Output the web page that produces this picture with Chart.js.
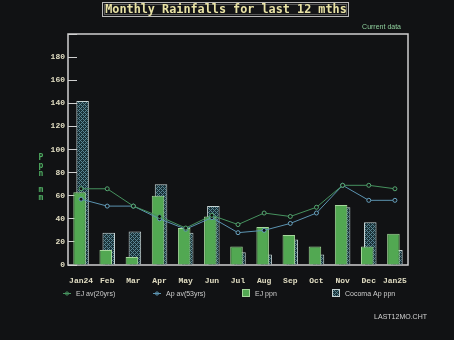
<!DOCTYPE html>
<html>
<head>
<meta charset="utf-8">
<title>Monthly Rainfalls for last 12 mths</title>
<script src="https://cdn.jsdelivr.net/npm/chart.js@4.4.1/dist/chart.umd.min.js"></script>
<style>
  html, body { margin: 0; padding: 0; background: #111214; }
  #wrap { width: 454px; height: 340px; }
</style>
</head>
<body>
<div id="wrap"><canvas id="rain" width="454" height="340"></canvas></div>
<script>
// monthly figures, mm
const months = ['Jan24', 'Feb', 'Mar', 'Apr', 'May', 'Jun', 'Jul', 'Aug', 'Sep', 'Oct', 'Nov', 'Dec', 'Jan25'];
const ejAverage = [66, 66, 51, 42, 32, 43, 35, 45, 42, 50, 69, 69, 66];
const apAverage = [57, 51, 51, 40, 31, 41, 28, 30, 36, 45, 69, 56, 56];
const ejRain = [63, 13, 7, 60, 32, 42, 16, 33, 26, 16, 52, 16, 27];
const cocomaRain = [142, 28, 29, 70, 28, 51, 11, 9, 22, 9, 50, 37, 13];
const yTicks = [0, 20, 40, 60, 80, 100, 120, 140, 160, 180];

const titleText = 'Monthly Rainfalls for last 12 mths';
const axisText = 'Ppn mm';
const noteText = 'Current data';
const fileText = 'LAST12MO.CHT';

const MONO = '"DejaVu Sans Mono", "Liberation Mono", monospace';
const COURIER = '"Liberation Mono", monospace';
const SANS = '"Liberation Sans", Arial, sans-serif';

// cross hatch used for the Cocoma bars
function makeHatch() {
    const c = document.createElement('canvas');
    c.width = 4;
    c.height = 4;
    const g = c.getContext('2d');
    g.fillStyle = '#1a3238';
    g.fillRect(0, 0, 4, 4);
    g.fillStyle = '#5a8694';
    for (let x = 0; x < 4; x++) {
        for (let y = 0; y < 4; y++) {
            if ((x + y) % 4 === 0 || ((x - y) + 4) % 4 === 0) g.fillRect(x, y, 1, 1);
        }
    }
    return c;
}
const hatch = document.createElement('canvas').getContext('2d').createPattern(makeHatch(), 'repeat');

const extras = {
    id: 'extras',
    beforeDraw(chart) {
        const ctx = chart.ctx;
        ctx.save();
        ctx.fillStyle = '#111214';
        ctx.fillRect(0, 0, chart.width, chart.height);
        ctx.restore();
    },
    beforeDatasetsDraw(chart) {
        const {ctx, chartArea: a} = chart;
        ctx.save();
        ctx.strokeStyle = '#cfcfcf';
        ctx.lineWidth = 1.5;
        ctx.strokeRect(a.left, a.top, a.right - a.left, a.bottom - a.top);
        ctx.restore();
    },
    afterDraw(chart) {
        const {ctx, chartArea: a} = chart;
        ctx.save();

        // title box
        ctx.fillStyle = '#141517';
        ctx.fillRect(102, 2, 247, 15);
        ctx.strokeStyle = '#b9b9b9';
        ctx.lineWidth = 1;
        ctx.strokeRect(102.5, 2.5, 246, 14);
        ctx.strokeStyle = '#5a5a5a';
        ctx.strokeRect(104.5, 4.5, 242, 10);
        ctx.fillStyle = '#e8e2a4';
        ctx.font = 'bold 11.8px ' + MONO;
        ctx.textAlign = 'center';
        ctx.textBaseline = 'middle';
        ctx.fillText(titleText, 226, 10);

        // note above the top right corner
        ctx.fillStyle = '#8fcf9c';
        ctx.font = '7px ' + SANS;
        ctx.textAlign = 'right';
        ctx.fillText(noteText, a.right - 7, 27);

        // y axis title, one letter under the other
        ctx.fillStyle = '#4fae62';
        ctx.font = 'bold 8px ' + MONO;
        ctx.textAlign = 'center';
        [...axisText].forEach((ch, i) => ctx.fillText(ch, 41, 158 + i * 8));

        // legend
        const legendX = [63, 153, 242, 332];
        const ly = 293;
        ctx.font = '7px ' + SANS;
        ctx.textAlign = 'left';
        chart.data.datasets.forEach((ds, i) => {
            const x = legendX[i];
            if (ds.type === 'line') {
                ctx.strokeStyle = ds.borderColor;
                ctx.lineWidth = 1;
                ctx.beginPath();
                ctx.moveTo(x, ly + 0.5);
                ctx.lineTo(x + 8, ly + 0.5);
                ctx.stroke();
                ctx.beginPath();
                ctx.arc(x + 4, ly + 0.5, 1.6, 0, Math.PI * 2);
                ctx.stroke();
            } else {
                ctx.fillStyle = ds.backgroundColor;
                ctx.fillRect(x, ly - 4, 8, 8);
                ctx.strokeStyle = ds.borderColor;
                ctx.strokeRect(x + 0.5, ly - 3.5, 7, 7);
            }
            ctx.fillStyle = '#cdcdcd';
            ctx.fillText(ds.label, x + 13, ly + 1);
        });

        // file name
        ctx.fillStyle = '#d2d2d2';
        ctx.font = '7px ' + SANS;
        ctx.textAlign = 'right';
        ctx.fillText(fileText, 427, 317);
        ctx.restore();
    }
};

new Chart(document.getElementById('rain'), {
    data: {
        labels: months,
        datasets: [
            {
                type: 'line',
                label: 'EJ av(20yrs)',
                data: ejAverage,
                borderColor: '#46925f',
                borderWidth: 1,
                pointRadius: 2,
                pointBorderWidth: 1,
                pointBackgroundColor: '#111214',
                pointBorderColor: '#56a872',
                tension: 0
            },
            {
                type: 'line',
                label: 'Ap av(53yrs)',
                data: apAverage,
                borderColor: '#5b93b0',
                borderWidth: 1,
                pointRadius: 2,
                pointBorderWidth: 1,
                pointBackgroundColor: '#111214',
                pointBorderColor: '#68a2bf',
                tension: 0
            },
            {
                type: 'bar',
                label: 'EJ ppn',
                data: ejRain,
                backgroundColor: '#52a852',
                borderColor: '#a6d89c',
                borderWidth: 1,
                categoryPercentage: 0.23,
                barPercentage: 4.17
            },
            {
                type: 'bar',
                label: 'Cocoma Ap ppn',
                data: cocomaRain,
                backgroundColor: hatch,
                borderColor: '#c6d3d3',
                borderWidth: 1,
                categoryPercentage: 0.23,
                barPercentage: 4.17
            }
        ]
    },
    options: {
        responsive: false,
        animation: false,
        layout: {
            padding: { top: 34, right: 46, bottom: 0, left: 0 }
        },
        scales: {
            x: {
                offset: true,
                grid: { display: false },
                border: { display: false },
                ticks: {
                    color: '#e0dcc2',
                    font: { family: COURIER, size: 8, weight: 'bold' },
                    padding: 3,
                    maxRotation: 0,
                    autoSkip: false
                },
                afterFit: (scale) => { scale.height = 75; }
            },
            y: {
                min: 0,
                max: 200,
                afterBuildTicks: (scale) => {
                    scale.ticks = yTicks.concat(200).map(v => ({ value: v }));
                },
                grid: {
                    drawOnChartArea: false,
                    color: '#cfcfcf',
                    tickLength: -9
                },
                border: { display: false },
                ticks: {
                    color: '#e0dcc2',
                    font: { family: COURIER, size: 8, weight: 'bold' },
                    padding: 12,
                    callback: (v) => (yTicks.includes(v) ? v : '')
                },
                afterFit: (scale) => { scale.width = 68; }
            }
        },
        plugins: {
            legend: { display: false },
            title: { display: false },
            tooltip: { enabled: false }
        }
    },
    plugins: [extras]
});
</script>
</body>
</html>
